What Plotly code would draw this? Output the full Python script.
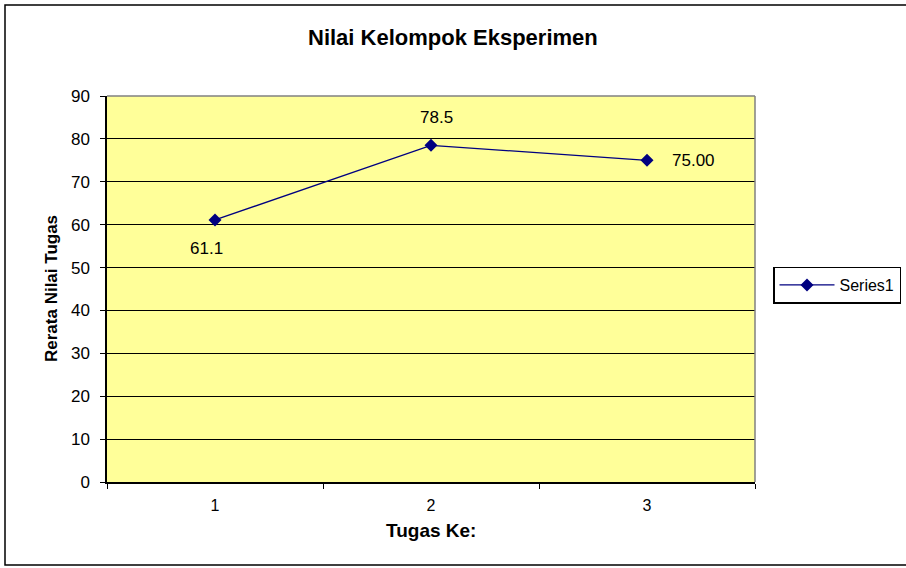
import plotly.graph_objects as go

categories = ["1", "2", "3"]
values = [61.1, 78.5, 75.0]
value_labels = ["61.1", "78.5", "75.00"]
series_name = "Series1"
y_ticks = [0, 10, 20, 30, 40, 50, 60, 70, 80, 90]

W, H = 906, 568
L, R, T, B = 107, 151, 96, 86
pw, ph = W - L - R, H - T - B

def px_to_paper_x(px):
    return (px - L) / pw

def px_to_paper_y(py):
    return (H - B - py) / ph

FONT = "Liberation Sans, Arial, sans-serif"

fig = go.Figure()
fig.add_trace(go.Scatter(
    x=categories, y=values, mode="lines+markers", name=series_name,
    line=dict(color="#000080", width=1.3),
    marker=dict(symbol="diamond", size=10, color="#000080"),
))

label_shifts = [(-9, -29), (5, 28), (46, 0)]
for i, (v, t, (dx, dy)) in enumerate(zip(values, value_labels, label_shifts)):
    fig.add_annotation(x=i, y=v, text=t, showarrow=False, xshift=dx, yshift=dy,
                       font=dict(family=FONT, size=17, color="#000000"))

fig.add_annotation(xref="paper", yref="paper", x=px_to_paper_x(453), y=px_to_paper_y(38),
                   text="<b>Nilai Kelompok Eksperimen</b>", showarrow=False,
                   xanchor="center", yanchor="middle",
                   font=dict(family=FONT, size=22, color="#000000"))
fig.add_annotation(xref="paper", yref="paper", x=px_to_paper_x(431), y=px_to_paper_y(530),
                   text="<b>Tugas Ke:</b>", showarrow=False,
                   xanchor="center", yanchor="middle",
                   font=dict(family=FONT, size=19, color="#000000"))
fig.add_annotation(xref="paper", yref="paper", x=px_to_paper_x(51), y=px_to_paper_y(289),
                   text="<b>Rerata Nilai Tugas</b>", showarrow=False, textangle=-90,
                   xanchor="center", yanchor="middle",
                   font=dict(family=FONT, size=17, color="#000000"))

# outer chart border
fig.add_shape(type="rect", xref="paper", yref="paper",
              x0=px_to_paper_x(5), x1=px_to_paper_x(915),
              y0=px_to_paper_y(565), y1=px_to_paper_y(5),
              line=dict(color="#000000", width=1.5), layer="below")

fig.update_layout(
    width=W, height=H,
    margin=dict(l=L, r=R, t=T, b=B, autoexpand=False),
    paper_bgcolor="#FFFFFF",
    plot_bgcolor="#FFFF99",
    font=dict(family=FONT, size=16, color="#000000"),
    showlegend=True,
    legend=dict(x=px_to_paper_x(773), y=px_to_paper_y(285), xanchor="left", yanchor="middle",
                bordercolor="#000000", borderwidth=1.5, bgcolor="#FFFFFF",
                font=dict(family=FONT, size=16, color="#000000"),
                itemwidth=55, tracegroupgap=0),
    yaxis=dict(
        range=[0, 90], tickvals=y_ticks, ticks="outside", ticklen=5,
        tickcolor="#000000", showline=True, linecolor="#000000", linewidth=1.5,
        showgrid=True, gridcolor="#000000", gridwidth=1, zeroline=False,
        ticklabelstandoff=7, tickfont=dict(family=FONT, size=17),
        fixedrange=True,
    ),
)
fig.update_xaxes(
    type="category", tickson="boundaries", ticks="outside", ticklen=5,
    tickcolor="#000000", showline=True, linecolor="#000000", linewidth=1.5,
    showgrid=False, mirror=False, ticklabelstandoff=8,
    tickfont=dict(family=FONT, size=16, color="#000000"),
    range=[-0.5, 2.5], fixedrange=True,
)

# gray border around plot area (top / right)
fig.add_shape(type="line", xref="paper", yref="paper", x0=0, x1=1, y0=1, y1=1,
              line=dict(color="#808080", width=1.5))
fig.add_shape(type="line", xref="paper", yref="paper", x0=1, x1=1, y0=0, y1=1,
              line=dict(color="#808080", width=1.5))

fig.write_html("out.html", config={"displayModeBar": False},
               post_script="document.body.style.margin='0';")
